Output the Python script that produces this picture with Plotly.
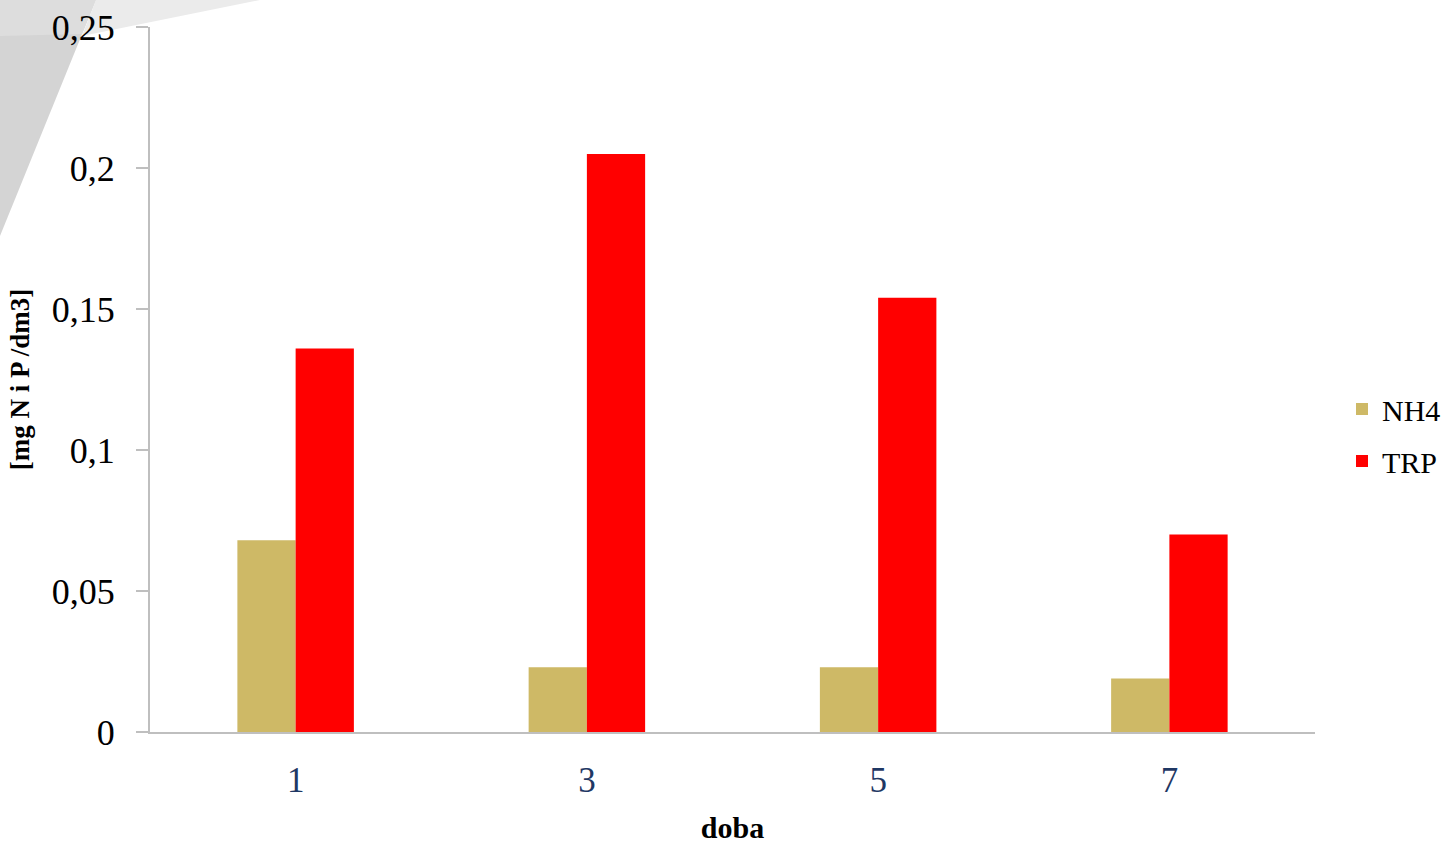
import plotly.graph_objects as go

categories = ["1", "3", "5", "7"]
nh4 = [0.068, 0.023, 0.023, 0.019]
trp = [0.136, 0.205, 0.154, 0.070]
y_ticks = [0, 0.05, 0.1, 0.15, 0.2, 0.25]
y_tick_labels = ["0", "0,05", "0,1", "0,15", "0,2", "0,25"]

FONT = "Liberation Serif"
W, H = 1450, 844
ML, MR, MT, MB = 150, 135, 27, 112
PW, PH = W - ML - MR, H - MT - MB


def px(x):
    return (x - ML) / PW


def py(y):
    return (H - MB - y) / PH


def path(points):
    return "M " + " L ".join(f"{px(a):.4f} {py(b):.4f}" for a, b in points) + " Z"


fig = go.Figure()
fig.add_trace(go.Bar(x=categories, y=nh4, name="NH4", marker_color="#CEB966",
                     marker_line_width=0, legendgroup="a"))
fig.add_trace(go.Bar(x=categories, y=trp, name="TRP", marker_color="#FF0000",
                     marker_line_width=0, legendgroup="b"))

# decorative gray swoosh in the top-left corner
fig.add_shape(type="path", xref="paper", yref="paper", layer="below",
              path=path([(0, 0), (96, 0), (0, 236)]),
              fillcolor="#D4D4D4", line_width=0)
fig.add_shape(type="path", xref="paper", yref="paper", layer="below",
              path=path([(0, 0), (96, 0), (82, 34), (0, 36)]),
              fillcolor="#DDDDDD", line_width=0)
fig.add_shape(type="path", xref="paper", yref="paper", layer="below",
              path=path([(96, 0), (260, 0), (82, 36)]),
              fillcolor="#EBEBEB", line_width=0)

fig.update_layout(
    width=W, height=H,
    margin=dict(l=ML, r=MR, t=MT, b=MB, autoexpand=False),
    paper_bgcolor="white", plot_bgcolor="white",
    barmode="group", bargap=0.6, bargroupgap=0,
    font=dict(family=FONT, color="black"),
    showlegend=True,
    legend=dict(x=px(1342), y=py(435), xanchor="left", yanchor="middle",
                font=dict(size=30, family=FONT), tracegroupgap=10,
                itemwidth=30, bgcolor="rgba(0,0,0,0)"),
    xaxis=dict(
        showline=True, linecolor="#BFBFBF", linewidth=2,
        ticks="", tickfont=dict(size=35, color="#1F3864", family=FONT),
        ticklabelstandoff=16,
        title=dict(text="<b>doba</b>", font=dict(size=30, family=FONT), standoff=18),
    ),
    yaxis=dict(
        range=[0, 0.25], tickvals=y_ticks, ticktext=y_tick_labels,
        showline=True, linecolor="#BFBFBF", linewidth=2,
        ticks="outside", ticklen=12, tickcolor="#BFBFBF", tickwidth=2,
        showgrid=False, zeroline=False,
        tickfont=dict(size=36, family=FONT),
        ticklabelstandoff=14,
        title=dict(text="<b>[mg N i P /dm3]</b>", font=dict(size=27, family=FONT), standoff=14),
    ),
)

fig.write_html("out.html")
